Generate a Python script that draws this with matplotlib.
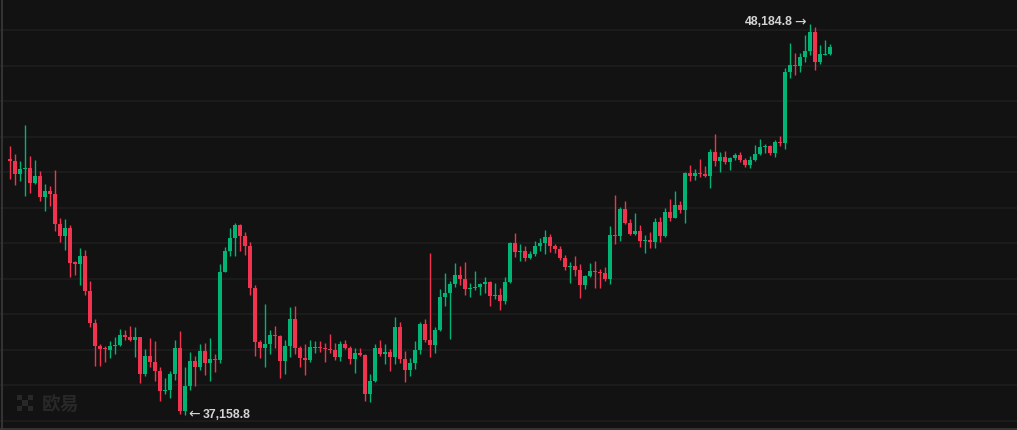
import numpy as np
import matplotlib
matplotlib.use("Agg")
import matplotlib.pyplot as plt
from matplotlib.lines import Line2D
from matplotlib.patches import Rectangle

# OHLC values, one per candle (oldest first)
opens = [44376, 44320, 43953, 44094, 44122, 43699, 43897, 43305, 43474, 43389,
         42543, 42205, 42430, 41472, 41415, 41641, 40654, 39751, 39103, 39018,
         38990, 39103, 39131, 39413, 39357, 39272, 39357, 38313, 38821, 38652,
         38398, 37834, 37862, 38313, 39046, 37270, 37975, 38680, 38511, 38962,
         38623, 38736, 38708, 41190, 41782, 42148, 42515, 42205, 41923, 40738,
         39216, 39046, 39159, 39413, 39385, 38680, 39103, 39864, 39046, 38764,
         38708, 39046, 39075, 39046, 39018, 38990, 38793, 39159, 39046, 38736,
         38905, 38849, 37749, 38116, 39046, 38877, 38934, 38793, 39639, 38736,
         38426, 38623, 38990, 39723, 39272, 39131, 39554, 40485, 40597, 40851,
         41105, 40992, 40710, 40738, 40767, 40851, 40908, 40513, 40541, 40372,
         40908, 42007, 41754, 41782, 41584, 41697, 41923, 42007, 42177, 41923,
         41838, 41584, 41331, 41359, 41246, 40823, 41077, 41218, 41190, 41161,
         40992, 42233, 42205, 42966, 42571, 42261, 42346, 42064, 42092, 42036,
         42600, 42205, 42882, 42712, 43079, 42938, 43981, 43897, 43981, 43953,
         43897, 44574, 44320, 44433, 44292, 44404, 44489, 44348, 44207, 44348,
         44517, 44715, 44743, 44545, 44856, 44827, 46830, 47027, 46999, 47253,
         47422, 47958, 47112, 47309, 47337]

closes = [44320, 43962, 44094, 44122, 43699, 43897, 43305, 43474, 43389, 42543,
          42205, 42430, 41443, 41415, 41641, 40654, 39751, 39103, 39018, 39005,
          39103, 39131, 39413, 39357, 39272, 39357, 38313, 38821, 38652, 38398,
          37834, 37862, 38313, 39046, 37270, 37975, 38680, 38511, 38962, 38623,
          38736, 38708, 41190, 41782, 42148, 42515, 42205, 41923, 40738, 39216,
          39046, 39159, 39413, 39385, 38680, 39103, 39864, 39046, 38764, 38708,
          39075, 39075, 39046, 39018, 38990, 38793, 39159, 39046, 38736, 38905,
          38849, 37749, 38116, 39046, 38877, 38934, 38793, 39639, 38736, 38426,
          38623, 38990, 39723, 39272, 39131, 39554, 40485, 40597, 40851, 41105,
          40992, 40710, 40738, 40767, 40851, 40908, 40513, 40541, 40372, 40908,
          42007, 41754, 41782, 41584, 41697, 41923, 42007, 42177, 41923, 41838,
          41584, 41331, 41359, 41246, 40823, 41077, 41218, 41190, 41161, 40992,
          42233, 42205, 42966, 42571, 42261, 42346, 42064, 42092, 42036, 42600,
          42205, 42882, 42712, 43079, 42938, 43981, 43897, 43981, 43953, 43897,
          44574, 44320, 44433, 44292, 44404, 44489, 44348, 44207, 44348, 44517,
          44715, 44743, 44545, 44856, 44827, 46830, 47027, 46999, 47253, 47422,
          47958, 47112, 47337, 47337, 47535]

highs = [44743, 44517, 44320, 45335, 44461, 44348, 44038, 43671, 43615, 44066,
         42712, 42684, 42515, 41500, 41866, 41810, 40936, 39864, 39159, 39103,
         39244, 39357, 39582, 39554, 39667, 39639, 39370, 39018, 39328, 39244,
         38511, 38200, 38398, 39272, 39526, 38511, 38934, 38821, 39159, 39187,
         39328, 38877, 41415, 41895, 42430, 42571, 42543, 42318, 42036, 40823,
         39272, 40287, 39554, 39667, 39413, 39272, 40203, 40231, 39103, 39159,
         39272, 39244, 39244, 39200, 39441, 39187, 39244, 39272, 39103, 39046,
         39046, 38877, 38313, 39159, 39272, 39159, 39018, 39921, 39780, 38962,
         38764, 39244, 39780, 39864, 41725, 39639, 40710, 41161, 40936, 41443,
         41359, 41472, 40879, 41218, 40879, 41049, 40936, 40879, 40738, 41049,
         42036, 42289, 41979, 41923, 41782, 42064, 42148, 42374, 42261, 41979,
         41923, 41669, 41472, 41641, 41415, 41105, 41443, 41500, 41274, 41331,
         42487, 43361, 43023, 43192, 42684, 42853, 42515, 42233, 42318, 42712,
         42741, 42994, 43248, 43474, 43192, 44010, 44207, 44094, 44376, 44179,
         44658, 45081, 44574, 44602, 44433, 44545, 44574, 44404, 44461, 44771,
         44940, 44799, 44771, 44912, 45025, 46942, 47647, 47365, 47365, 47873,
         48184.8, 48099, 47591, 47732, 47619]

lows = [43812, 43643, 43756, 43333, 43417, 43671, 43200, 42910, 43051, 42346,
        42036, 41810, 41049, 41105, 40823, 40541, 39639, 38539, 38539, 38652,
        38764, 38877, 39103, 39272, 39244, 38793, 38059, 38257, 38511, 38116,
        37552, 37749, 37636, 38144, 37185, 37158.8, 37862, 37975, 38426, 38285,
        38116, 38370, 38623, 41190, 41641, 41641, 41782, 41669, 40541, 38821,
        38764, 38511, 38877, 39046, 38200, 38313, 38793, 38877, 38511, 38285,
        38652, 38905, 38934, 38652, 38905, 38708, 38680, 39018, 38595, 38341,
        38821, 37552, 37524, 38088, 38821, 38595, 38398, 38595, 38623, 38088,
        38257, 38454, 38877, 39216, 38793, 38905, 39526, 40231, 39300, 40767,
        40823, 40541, 40485, 40682, 40541, 40597, 40231, 40428, 40118, 40287,
        40879, 41613, 41500, 41500, 41556, 41641, 41782, 41697, 41754, 41725,
        41528, 41246, 40879, 41077, 40456, 40710, 41049, 40738, 40738, 40936,
        40851, 41979, 42064, 42543, 42233, 42233, 41895, 41725, 41866, 41866,
        42036, 42177, 42628, 42712, 42853, 42571, 43756, 43784, 43869, 43869,
        43558, 44179, 44010, 44235, 44066, 44348, 44292, 44151, 44122, 44320,
        44489, 44545, 44489, 44433, 44743, 44658, 46660, 46745, 46830, 47112,
        47309, 46886, 47055, 47309, 47309]

grid_levels = list(range(37000, 48001, 1000))

BG = "#121212"
GRID = "#1d1d1d"
UP = "#00b476"
DOWN = "#f2334f"
LABEL = "#d4d4d4"

o = np.array(opens, dtype=float)
c = np.array(closes, dtype=float)
h = np.array(highs, dtype=float)
l = np.array(lows, dtype=float)
x = np.arange(len(o))
up = c >= o
colors = np.where(up, UP, DOWN)

fig = plt.figure(figsize=(10.17, 4.30), dpi=100, facecolor=BG)
ax = fig.add_axes([0, 0, 1, 1], facecolor=BG)
ax.set_xlim(-2, 201.4)
ax.set_ylim(36734, 48860)

for g in grid_levels:
    ax.axhline(g, color=GRID, lw=1.2, zorder=0)

# wicks then bodies
ax.vlines(x, l, h, colors=colors, lw=1.0, zorder=2)
body_lo = np.minimum(o, c)
body_h = np.maximum(np.abs(c - o), 30)
ax.bar(x, body_h, bottom=body_lo, width=0.62, color=colors, lw=0, zorder=3)

for s in ax.spines.values():
    s.set_visible(False)
ax.set_xticks([])
ax.set_yticks([])

# extreme labels: number and arrow drawn separately
ih = int(np.argmax(h))
il = int(np.argmin(l))
num_font = dict(color=LABEL, fontsize=8.8, fontweight="bold",
                family=["Liberation Sans", "DejaVu Sans"])
arr_font = dict(color=LABEL, fontsize=10, family=["DejaVu Sans"])
ax.annotate("\u2192", xy=(ih, h[ih]), xytext=(-2.8, 1.2),
            textcoords="offset points", ha="right", va="center", **arr_font)
ax.annotate(f"{h[ih]:,.1f}", xy=(ih, h[ih]), xytext=(-12.5, 1.2),
            textcoords="offset points", ha="right", va="center", **num_font)
ax.annotate("\u2190", xy=(il, l[il]), xytext=(2.4, 0.3),
            textcoords="offset points", ha="left", va="center", **arr_font)
ax.annotate(f"{l[il]:,.1f}", xy=(il, l[il]), xytext=(12.8, 0.3),
            textcoords="offset points", ha="left", va="center", **num_font)

# frame lines (left and bottom)
W, H = 1017, 430
fig.add_artist(Line2D([1.5 / W, 1.5 / W], [0, 1], color="#3a3a3a", lw=1.2))
fig.add_artist(Line2D([0, 1], [1.5 / H, 1.5 / H], color="#3a3a3a", lw=1.2))

# watermark
wm = "#282828"
cell = 5.4
x0, y0 = 17, 395
for (cx, cy) in [(0, 0), (2, 0), (1, 1), (0, 2), (2, 2)]:
    px = x0 + cx * cell
    py = y0 + cy * cell
    fig.add_artist(Rectangle((px / W, 1 - (py + cell) / H), cell / W, cell / H,
                             color=wm, lw=0))
fig.text(42 / W, 1 - 404 / H, "欧易", color=wm, fontsize=13.5, fontweight="bold",
         family=["Noto Sans CJK SC", "DejaVu Sans"], ha="left", va="center")

fig.savefig("out.png", dpi=100, facecolor=BG)
